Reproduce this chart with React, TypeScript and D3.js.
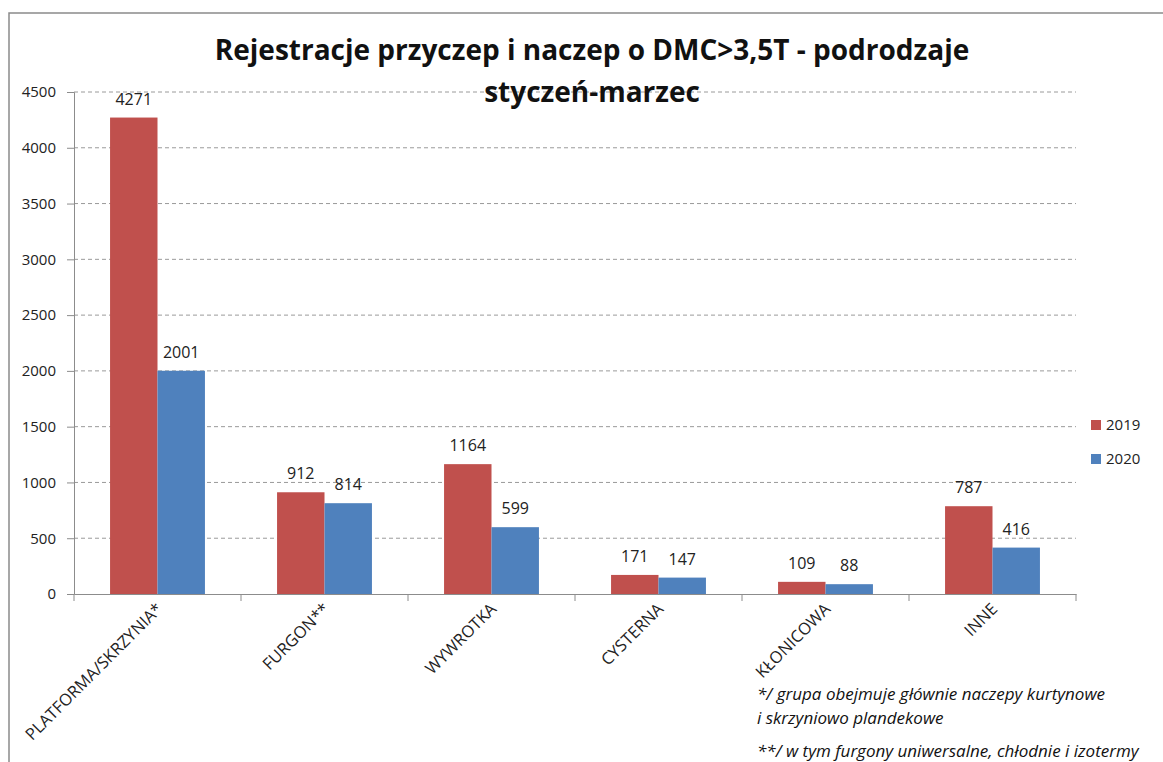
import { useEffect, useRef } from "react"
import * as d3 from "d3"

const categories = ["PLATFORMA/SKRZYNIA*", "FURGON**", "WYWROTKA", "CYSTERNA", "KŁONICOWA", "INNE"]
const seriesNames = ["2019", "2020"]
const values2019 = [4271, 912, 1164, 171, 109, 787]
const values2020 = [2001, 814, 599, 147, 88, 416]
const yTicks = [0, 500, 1000, 1500, 2000, 2500, 3000, 3500, 4000, 4500]
const titleLines = ["Rejestracje przyczep i naczep o DMC>3,5T - podrodzaje", "styczeń-marzec"]
const footnotes = [
  "*/ grupa obejmuje głównie naczepy kurtynowe",
  "i skrzyniowo plandekowe",
  "**/ w tym furgony uniwersalne, chłodnie i izotermy",
]

const colors = ["#C0504D", "#4F81BD"]
const FONT = "'Open Sans', 'Liberation Sans', sans-serif"

export default function App() {
  const svgRef = useRef<SVGSVGElement>(null)

  useEffect(() => {
    if (!svgRef.current) return
    const root = d3.select(svgRef.current)
    root.selectAll("*").remove()

    const W = 1163
    const H = 762
    const margin = { top: 92, left: 74, right: 87, bottom: 168 }
    const width = W - margin.left - margin.right
    const height = H - margin.top - margin.bottom

    root.attr("width", W).attr("height", H)

    root.append("rect").attr("width", W).attr("height", H).attr("fill", "#fff")

    // frame
    root
      .append("path")
      .attr("d", `M9,${H} L9,13 L${W},13`)
      .attr("fill", "none")
      .attr("stroke", "#8a8a8a")
      .attr("stroke-width", 1.5)

    const svg = root.append("g").attr("transform", `translate(${margin.left},${margin.top})`)

    const x = d3.scaleBand().domain(categories).range([0, width]).paddingInner(0).paddingOuter(0)
    const x1 = d3
      .scaleBand()
      .domain(seriesNames)
      .range([0, x.bandwidth()])
      .paddingInner(0)
      .paddingOuter(0.76)
    const y = d3.scaleLinear().domain([0, 4500]).range([height, 0])

    // grid lines
    svg
      .append("g")
      .selectAll("line")
      .data(yTicks.filter((t) => t > 0))
      .enter()
      .append("line")
      .attr("x1", 0)
      .attr("x2", width)
      .attr("y1", (d) => y(d))
      .attr("y2", (d) => y(d))
      .attr("stroke", "#9a9a9a")
      .attr("stroke-dasharray", "4,3")

    // y axis
    const yAxis = svg
      .append("g")
      .call(d3.axisLeft(y).tickValues(yTicks).tickSize(7).tickPadding(11).tickFormat((d) => `${d}`))
    yAxis.select(".domain").attr("stroke", "#8c8c8c")
    yAxis.selectAll(".tick line").attr("stroke", "#8c8c8c")
    yAxis
      .selectAll("text")
      .attr("font-family", FONT)
      .attr("font-size", 15)
      .attr("fill", "#222")

    // x axis
    const xAxis = svg
      .append("g")
      .attr("transform", `translate(0,${height})`)
      .call(d3.axisBottom(x).tickSize(0).tickFormat(() => ""))
    xAxis.select(".domain").attr("stroke", "#8c8c8c")
    xAxis.selectAll(".tick").remove()
    svg
      .append("g")
      .selectAll("line")
      .data(d3.range(categories.length + 1))
      .enter()
      .append("line")
      .attr("x1", (i) => i * x.step())
      .attr("x2", (i) => i * x.step())
      .attr("y1", height)
      .attr("y2", height + 7)
      .attr("stroke", "#8c8c8c")

    // category labels
    svg
      .append("g")
      .selectAll("text")
      .data(categories)
      .enter()
      .append("text")
      .attr("transform", (d) => `translate(${(x(d) || 0) + x.bandwidth() / 2 + 6},${height + 16}) rotate(-45)`)
      .attr("text-anchor", "end")
      .attr("font-family", FONT)
      .attr("font-size", 16.5)
      .attr("fill", "#222")
      .text((d) => d)

    // bars
    const series = [values2019, values2020]
    series.forEach((vals, si) => {
      const g = svg.append("g")
      g.selectAll("rect")
        .data(categories)
        .enter()
        .append("rect")
        .attr("x", (d) => (x(d) || 0) + (x1(seriesNames[si]) || 0))
        .attr("y", (d, i) => y(vals[i]))
        .attr("width", x1.bandwidth())
        .attr("height", (d, i) => height - y(vals[i]))
        .attr("fill", colors[si])

      g.selectAll("text")
        .data(categories)
        .enter()
        .append("text")
        .attr("x", (d) => (x(d) || 0) + (x1(seriesNames[si]) || 0) + x1.bandwidth() / 2)
        .attr("y", (d, i) => y(vals[i]) - 13)
        .attr("text-anchor", "middle")
        .attr("font-family", FONT)
        .attr("font-size", 16)
        .attr("fill", "#222")
        .text((d, i) => vals[i])
    })

    // legend
    const legend = root.append("g").attr("transform", "translate(1091,425)")
    seriesNames.forEach((name, i) => {
      legend
        .append("rect")
        .attr("x", 0)
        .attr("y", i * 34 - 5)
        .attr("width", 10)
        .attr("height", 10)
        .attr("fill", colors[i])
      legend
        .append("text")
        .attr("x", 15)
        .attr("y", i * 34)
        .attr("dy", "0.35em")
        .attr("font-family", FONT)
        .attr("font-size", 15)
        .attr("fill", "#222")
        .text(name)
    })

    // title
    root
      .append("g")
      .selectAll("text")
      .data(titleLines)
      .enter()
      .append("text")
      .attr("x", 592)
      .attr("y", (d, i) => 60 + i * 42)
      .attr("text-anchor", "middle")
      .attr("font-family", FONT)
      .attr("font-weight", "bold")
      .attr("font-size", 28)
      .attr("fill", "#111")
      .text((d) => d)

    // footnotes
    root
      .append("g")
      .selectAll("text")
      .data(footnotes)
      .enter()
      .append("text")
      .attr("x", 757)
      .attr("y", (d, i) => [700, 724, 757][i])
      .attr("font-family", FONT)
      .attr("font-style", "italic")
      .attr("font-size", 17)
      .attr("fill", "#111")
      .text((d) => d)
  }, [])

  return (
    <div style={{ position: "absolute", left: 0, top: 0 }}>
      <svg ref={svgRef} style={{ display: "block" }} />
    </div>
  )
}
